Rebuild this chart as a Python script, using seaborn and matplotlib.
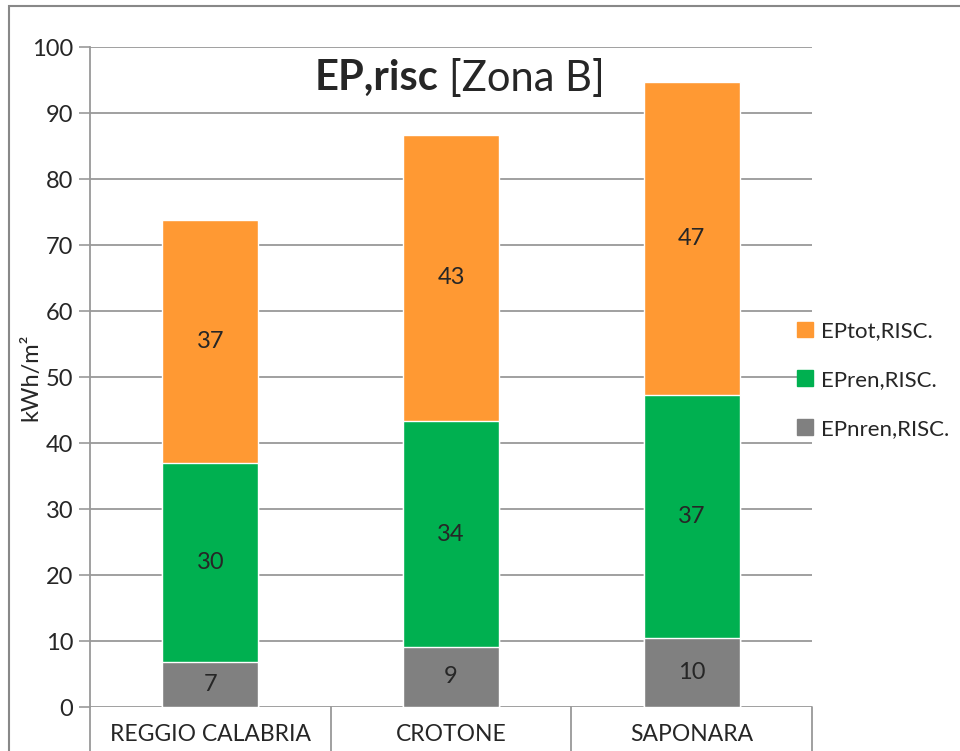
import numpy as np
import pandas as pd
import seaborn as sns
import matplotlib.pyplot as plt
from matplotlib.patches import Patch, Rectangle

# dati
citta = ['REGGIO CALABRIA', 'CROTONE', 'SAPONARA']
ep_nren = [6.8, 9.1, 10.4]
ep_ren = [30.2, 34.2, 36.9]
ep_tot = [36.8, 43.4, 47.4]

col_tot = '#FF9933'
col_ren = '#00B050'
col_nren = '#808080'

df = pd.DataFrame({'citta': citta, 'nren': ep_nren, 'ren': ep_ren, 'tot': ep_tot})
df['top_nren'] = df['nren']
df['top_ren'] = df['nren'] + df['ren']
df['top_tot'] = df['top_ren'] + df['tot']

sns.set_style('white')
plt.rcParams['font.family'] = ['Lato', 'DejaVu Sans']

fig = plt.figure(figsize=(9.6, 7.51), dpi=100)
ax = fig.add_axes([90 / 960, 1 - 707 / 751, 722 / 960, 660 / 751])

# barre impilate: si disegnano i totali cumulati sovrapposti
sns.barplot(data=df, x='citta', y='top_tot', color=col_tot, width=0.4, saturation=1, ax=ax, zorder=3)
sns.barplot(data=df, x='citta', y='top_ren', color=col_ren, width=0.4, saturation=1, ax=ax, zorder=4)
sns.barplot(data=df, x='citta', y='top_nren', color=col_nren, width=0.4, saturation=1, ax=ax, zorder=5)

for i, row in df.iterrows():
    ax.text(i, row['nren'] / 2, '%.0f' % row['nren'], ha='center', va='center', fontsize=17, zorder=6)
    ax.text(i, row['nren'] + row['ren'] / 2, '%.0f' % row['ren'], ha='center', va='center', fontsize=17, zorder=6)
    ax.text(i, row['top_ren'] + row['tot'] / 2, '%.0f' % row['tot'], ha='center', va='center', fontsize=17, zorder=6)

ax.set_xlim(-0.5, 2.5)
ax.set_ylim(0, 100)
ax.set_yticks(np.arange(0, 101, 10))
ax.tick_params(axis='y', labelsize=17, length=8, width=1.2, color='#999999', direction='out', pad=4, left=True)
ax.tick_params(axis='x', labelsize=16.5, length=0, pad=12)
ax.set_xlabel('')
ax.set_ylabel('kWh/m²', fontsize=17)
ax.yaxis.set_label_coords(-0.068, 0.5)
ax.grid(axis='y', color='#999999', lw=1.3, zorder=0)
ax.set_axisbelow(True)

for s in ['top', 'right', 'bottom']:
    ax.spines[s].set_visible(False)
ax.spines['left'].set_color('#999999')
ax.spines['left'].set_linewidth(1.3)
ax.spines['left'].set_bounds(0, 100)

# separatori delle categorie sotto l'asse
for xb in [-0.5, 0.5, 1.5, 2.5]:
    ax.axvline(xb, ymin=-0.08, ymax=0, color='#999999', lw=1.3, clip_on=False)

# titolo
ax.text(0.483, 0.953, 'EP,risc', transform=ax.transAxes, ha='right', va='center',
        fontsize=30, fontweight='bold')
ax.text(0.497, 0.953, '[Zona B]', transform=ax.transAxes, ha='left', va='center', fontsize=30)

handles = [Patch(color=col_tot, label='EPtot,RISC.'),
           Patch(color=col_ren, label='EPren,RISC.'),
           Patch(color=col_nren, label='EPnren,RISC.')]
fig.legend(handles=handles, loc='center left', bbox_to_anchor=(797 / 960, 1 - 380 / 751),
           frameon=False, fontsize=16, handlelength=0.7, handleheight=0.7,
           handletextpad=0.4, labelspacing=1.3, borderpad=0, borderaxespad=0)

# cornice del grafico
fig.patches.append(Rectangle((9 / 960, -0.1), 1.0, 1.1 - 6 / 751, transform=fig.transFigure,
                             fill=False, edgecolor='#888888', lw=1.5))

fig.savefig('out.png', dpi=100)
